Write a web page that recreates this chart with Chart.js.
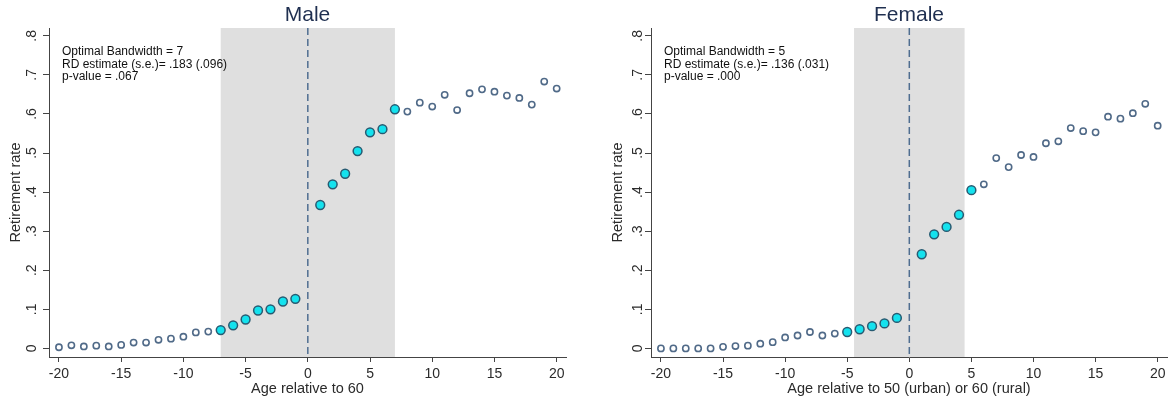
<!DOCTYPE html>
<html>
<head>
<meta charset="utf-8">
<script src="https://cdn.jsdelivr.net/npm/chart.js@4"></script>
<style>
  html, body { margin: 0; padding: 0; background: #fff; }
  body { width: 1175px; height: 403px; position: relative; overflow: hidden; }
  .panel { position: absolute; top: 0; height: 403px; }
  #male-box { left: 0; width: 587px; }
  #female-box { left: 602px; width: 573px; }
</style>
</head>
<body>
<div class="panel" id="male-box"><canvas id="male"></canvas></div>
<div class="panel" id="female-box"><canvas id="female"></canvas></div>
<script>
// age relative to the cutoff (no point at 0)
const ages = [-20,-19,-18,-17,-16,-15,-14,-13,-12,-11,-10,-9,-8,-7,-6,-5,-4,-3,-2,-1,
              1,2,3,4,5,6,7,8,9,10,11,12,13,14,15,16,17,18,19,20];

const maleRate = [0.003,0.008,0.005,0.007,0.005,0.009,0.015,0.015,0.022,0.025,
                  0.030,0.041,0.043,0.047,0.059,0.074,0.097,0.100,0.120,0.127,
                  0.367,0.420,0.447,0.505,0.553,0.561,0.612,0.606,0.629,0.619,
                  0.649,0.610,0.653,0.663,0.657,0.647,0.641,0.624,0.683,0.665];

const femaleRate = [0.000,0.000,0.000,0.000,0.000,0.004,0.006,0.007,0.012,0.016,
                    0.028,0.033,0.042,0.033,0.038,0.042,0.049,0.057,0.064,0.078,
                    0.241,0.292,0.311,0.342,0.405,0.420,0.487,0.464,0.495,0.490,
                    0.525,0.530,0.564,0.556,0.553,0.593,0.588,0.602,0.626,0.570];

const maleBandwidth = 7;
const femaleBandwidth = 5;
const maleShade = [-7, 7];
const femaleShade = [-4.45, 4.45];

const maleNotes = ['Optimal Bandwidth = 7', 'RD estimate (s.e.)= .183 (.096)', 'p-value = .067'];
const femaleNotes = ['Optimal Bandwidth = 5', 'RD estimate (s.e.)= .136 (.031)', 'p-value = .000'];

const xTicks = [-20, -15, -10, -5, 0, 5, 10, 15, 20];
const yTicks = [0, 0.1, 0.2, 0.3, 0.4, 0.5, 0.6, 0.7, 0.8];
const yTickLabels = ['0', '.1', '.2', '.3', '.4', '.5', '.6', '.7', '.8'];

const FONT = "'Liberation Sans', Arial, sans-serif";
const TEXT = '#2b2b2b';

// grey band for the bandwidth window, dashed cutoff line, rotated y labels, notes
const rdPlugin = {
  id: 'rdDecor',
  beforeDatasetsDraw(chart, args, opts) {
    const { ctx, chartArea: a, scales: { x } } = chart;
    ctx.save();
    ctx.fillStyle = '#dfdfdf';
    const x0 = x.getPixelForValue(opts.shade[0]);
    const x1 = x.getPixelForValue(opts.shade[1]);
    ctx.fillRect(x0, a.top, x1 - x0, a.bottom - a.top);

    const xc = x.getPixelForValue(0);
    ctx.strokeStyle = '#4f6e90';
    ctx.lineWidth = 1.5;
    ctx.setLineDash([7, 4]);
    ctx.beginPath();
    ctx.moveTo(xc, a.top);
    ctx.lineTo(xc, a.bottom);
    ctx.stroke();
    ctx.restore();
  },
  afterDraw(chart, args, opts) {
    const { ctx, chartArea: a, scales: { y } } = chart;
    ctx.save();
    ctx.fillStyle = TEXT;
    ctx.font = '14px ' + FONT;
    ctx.textAlign = 'center';
    ctx.textBaseline = 'middle';
    yTicks.forEach((v, i) => {
      const py = y.getPixelForValue(v);
      ctx.save();
      ctx.translate(a.left - opts.labelGap, py);
      ctx.rotate(-Math.PI / 2);
      ctx.fillText(yTickLabels[i], 0, 0);
      ctx.restore();
    });

    ctx.font = '12px ' + FONT;
    ctx.textAlign = 'left';
    ctx.fillStyle = '#111';
    opts.notes.forEach((line, i) => {
      ctx.fillText(line, a.left + 13, 52 + i * 12.3);
    });
    ctx.restore();
  }
};

function makeChart(id, title, xTitle, rates, bandwidth, shade, notes, labelGap, rightPad) {
  const outside = [], inside = [];
  ages.forEach((a, i) => {
    const p = { x: a, y: rates[i] };
    if (Math.abs(a) <= bandwidth) inside.push(p); else outside.push(p);
  });

  return new Chart(document.getElementById(id), {
    type: 'scatter',
    data: {
      datasets: [
        {
          data: outside,
          pointRadius: 3.1,
          pointBorderWidth: 1.6,
          pointBorderColor: '#506a88',
          pointBackgroundColor: '#ffffff'
        },
        {
          data: inside,
          pointRadius: 4.4,
          pointBorderWidth: 1.5,
          pointBorderColor: '#275b72',
          pointBackgroundColor: '#14e2ee'
        }
      ]
    },
    options: {
      responsive: true,
      maintainAspectRatio: false,
      animation: false,
      layout: { padding: { left: 0, right: rightPad, top: 0, bottom: 0 } },
      plugins: {
        legend: { display: false },
        tooltip: { enabled: false },
        title: {
          display: true,
          text: title,
          fullSize: false,
          color: '#1f2f50',
          font: { family: FONT, size: 21, weight: 'normal', lineHeight: 1.2 },
          padding: { top: 2.5, bottom: 0.3 }
        },
        rdDecor: { shade: shade, notes: notes, labelGap: labelGap }
      },
      scales: {
        x: {
          type: 'linear',
          min: -20.8,
          max: 20.75,
          afterBuildTicks: s => { s.ticks = xTicks.map(v => ({ value: v })); },
          afterFit: s => { s.height = 46; },
          border: { display: true, color: '#444', width: 1 },
          grid: { display: true, drawOnChartArea: false, drawTicks: true, tickLength: 5, color: '#444' },
          ticks: { color: TEXT, font: { family: FONT, size: 14 }, padding: 4, maxRotation: 0 },
          title: {
            display: true,
            text: xTitle,
            color: TEXT,
            font: { family: FONT, size: 14.5 },
            padding: { top: 0, bottom: 5 }
          }
        },
        y: {
          type: 'linear',
          min: -0.022,
          max: 0.82,
          afterBuildTicks: s => { s.ticks = yTicks.map(v => ({ value: v })); },
          afterFit: s => { s.width = 49; },
          border: { display: true, color: '#444', width: 1 },
          grid: { display: true, drawOnChartArea: false, drawTicks: true, tickLength: 6, color: '#444' },
          ticks: { display: false },
          title: {
            display: true,
            text: 'Retirement rate',
            color: TEXT,
            font: { family: FONT, size: 14.5 },
            padding: { top: 7, bottom: 0 }
          }
        }
      }
    },
    plugins: [rdPlugin]
  });
}

makeChart('male', 'Male', 'Age relative to 60', maleRate, maleBandwidth, maleShade, maleNotes, 17, 21);
makeChart('female', 'Female', 'Age relative to 50 (urban) or 60 (rural)', femaleRate, femaleBandwidth, femaleShade, femaleNotes, 13, 8);
</script>
</body>
</html>
